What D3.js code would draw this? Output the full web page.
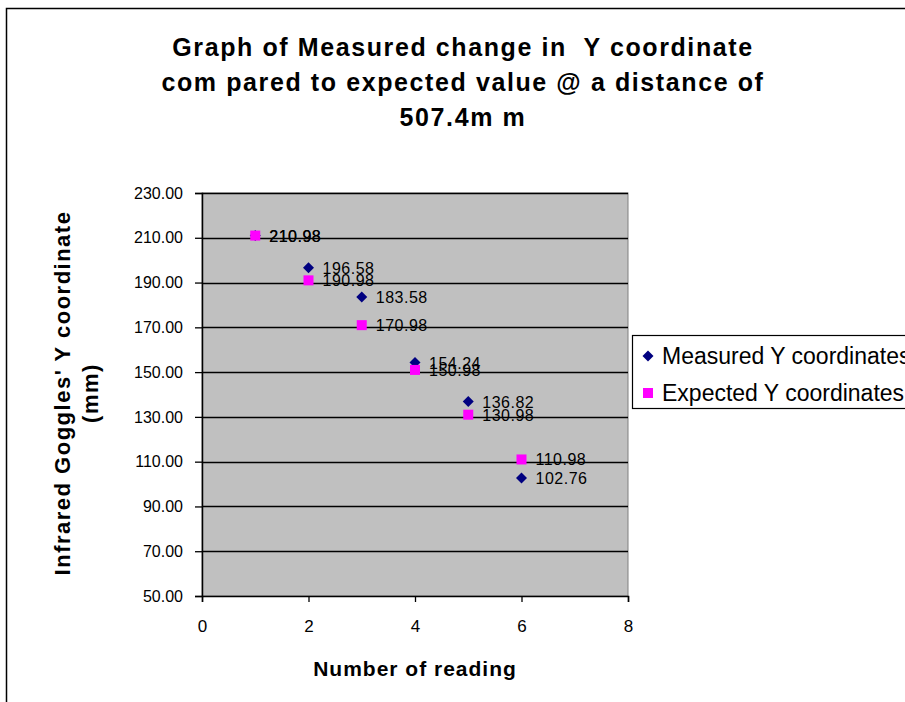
<!DOCTYPE html>
<html>
<head>
<meta charset="utf-8">
<script src="https://cdn.jsdelivr.net/npm/d3@7"></script>
<style>
  html, body { margin: 0; padding: 0; background: #fff; }
  svg { display: block; font-family: "Liberation Sans", Arial, sans-serif; }
  text { white-space: pre; }
</style>
</head>
<body>
<svg id="chart" width="905" height="702"></svg>
<script>
// Reading numbers and the two series of Y coordinates (mm)
const readings = [1, 2, 3, 4, 5, 6];
const measuredY = [210.98, 196.58, 183.58, 154.24, 136.82, 102.76];
const expectedY = [210.98, 190.98, 170.98, 150.98, 130.98, 110.98];
const yTicks = [50, 70, 90, 110, 130, 150, 170, 190, 210, 230];
const xTicks = [0, 2, 4, 6, 8];
const seriesNames = ["Measured Y coordinates", "Expected Y coordinates"];
const titleLines = [
  "Graph of Measured change in  Y coordinate",
  "com pared to expected value @ a distance of",
  "507.4m m"
];

const svg = d3.select("#chart");

// Outer chart frame
svg.append("rect")
  .attr("x", 6.5).attr("y", 8.5)
  .attr("width", 1000).attr("height", 1000)
  .attr("fill", "#fff").attr("stroke", "#000").attr("stroke-width", 1.5);

const plot = { left: 202, right: 628, top: 193, bottom: 596 };

const x = d3.scaleLinear().domain([0, 8]).range([plot.left, plot.right]);
const y = d3.scaleLinear().domain([50, 230]).range([plot.bottom, plot.top]);

// Plot background
svg.append("rect")
  .attr("x", plot.left).attr("y", plot.top)
  .attr("width", plot.right - plot.left).attr("height", plot.bottom - plot.top)
  .attr("fill", "#c0c0c0")
  .attr("stroke", "#808080").attr("stroke-width", 1);

// Horizontal gridlines
svg.append("g")
  .selectAll("line")
  .data(yTicks.slice(1))
  .join("line")
  .attr("x1", plot.left).attr("x2", plot.right)
  .attr("y1", d => Math.round(y(d)) + 0.5).attr("y2", d => Math.round(y(d)) + 0.5)
  .attr("stroke", "#000").attr("stroke-width", 1.3);

// Y axis
const yAxis = svg.append("g")
  .attr("transform", `translate(${plot.left},0)`)
  .call(d3.axisLeft(y).tickValues(yTicks).tickFormat(d3.format(".2f")).tickSize(7).tickPadding(12));
yAxis.select(".domain").attr("stroke", "#000").attr("stroke-width", 1.5);
yAxis.selectAll(".tick line").attr("stroke", "#000").attr("stroke-width", 1.3);
yAxis.selectAll(".tick text")
  .attr("font-size", 16).attr("fill", "#000")
  .attr("font-family", "'Liberation Sans', Arial, sans-serif");

// X axis
const xAxis = svg.append("g")
  .attr("transform", `translate(0,${plot.bottom})`)
  .call(d3.axisBottom(x).tickValues(xTicks).tickFormat(d3.format("d")).tickSize(6).tickPadding(18));
xAxis.select(".domain").attr("stroke", "#000").attr("stroke-width", 1.5);
xAxis.selectAll(".tick line").attr("stroke", "#000").attr("stroke-width", 1.3);
xAxis.selectAll(".tick text")
  .attr("font-size", 17).attr("fill", "#000")
  .attr("font-family", "'Liberation Sans', Arial, sans-serif");

// Marker shapes: square-proportioned diamond and filled square
const dr = 5.5;
const diamondPath = `M0,${-dr}L${dr},0L0,${dr}L${-dr},0Z`;
const colors = ["#000080", "#ff00ff"];
const sq = 10;

// Measured series (diamonds)
svg.append("g")
  .selectAll("path")
  .data(readings.map((r, i) => ({ r, v: measuredY[i] })))
  .join("path")
  .attr("d", diamondPath)
  .attr("transform", d => `translate(${x(d.r)},${y(d.v)})`)
  .attr("fill", colors[0]);

// Expected series (squares)
svg.append("g")
  .selectAll("rect")
  .data(readings.map((r, i) => ({ r, v: expectedY[i] })))
  .join("rect")
  .attr("x", d => x(d.r) - sq / 2).attr("y", d => y(d.v) - sq / 2)
  .attr("width", sq).attr("height", sq)
  .attr("fill", colors[1]);

// Data labels
const labelGroup = svg.append("g")
  .attr("font-size", 16).attr("letter-spacing", 0.5).attr("fill", "#000");
[measuredY, expectedY].forEach(series => {
  labelGroup.selectAll(null)
    .data(readings.map((r, i) => ({ r, v: series[i] })))
    .join("text")
    .attr("x", d => x(d.r) + 14)
    .attr("y", d => y(d.v) + 6)
    .text(d => d3.format(".2f")(d.v));
});

// Title
svg.append("g")
  .selectAll("text")
  .data(titleLines)
  .join("text")
  .attr("x", 463)
  .attr("y", (d, i) => 56 + i * 35)
  .attr("text-anchor", "middle")
  .attr("font-size", 25).attr("font-weight", "bold")
  .attr("letter-spacing", 1.6)
  .attr("fill", "#000")
  .text(d => d);

// X axis title
svg.append("text")
  .attr("x", 415).attr("y", 676)
  .attr("text-anchor", "middle")
  .attr("font-size", 21).attr("font-weight", "bold")
  .attr("letter-spacing", 1)
  .text("Number of reading");

// Y axis title (two lines, rotated)
const yTitle = svg.append("text")
  .attr("transform", "translate(70,393) rotate(-90)")
  .attr("text-anchor", "middle")
  .attr("font-size", 22).attr("font-weight", "bold")
  .attr("letter-spacing", 1.5);
yTitle.append("tspan").attr("x", 0).attr("dy", 0).text("Infrared Goggles' Y coordinate");
yTitle.append("tspan").attr("x", 0).attr("dy", 28).text("(mm)");

// Legend
const legend = svg.append("g");
legend.append("rect")
  .attr("x", 632.5).attr("y", 335.5)
  .attr("width", 300).attr("height", 73)
  .attr("fill", "#fff").attr("stroke", "#000").attr("stroke-width", 1.2);
seriesNames.forEach((name, i) => {
  const cy = 356 + i * 37;
  if (i === 0) {
    legend.append("path").attr("d", diamondPath).attr("transform", `translate(648,${cy})`).attr("fill", colors[0]);
  } else {
    legend.append("rect").attr("x", 643).attr("y", cy - 5).attr("width", sq).attr("height", sq).attr("fill", colors[1]);
  }
  legend.append("text")
    .attr("x", 662).attr("y", cy + 8)
    .attr("font-size", 23).attr("fill", "#000")
    .text(name);
});
</script>
</body>
</html>
